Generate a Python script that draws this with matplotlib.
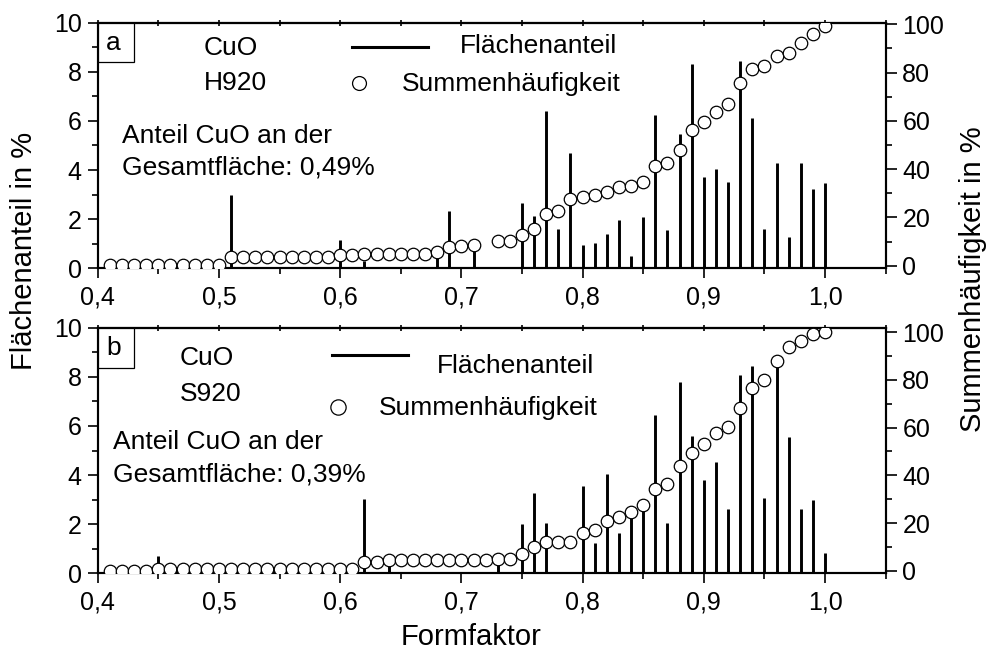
import matplotlib
matplotlib.use("Agg")
import matplotlib.pyplot as plt
from matplotlib.lines import Line2D
from matplotlib.patches import Rectangle
from matplotlib.ticker import MultipleLocator, FixedLocator

plt.rcParams['font.family'] = ['Liberation Sans', 'DejaVu Sans']

# ---- panel a: CuO H920 ----
a_bar_x = [0.51, 0.60, 0.62, 0.68, 0.69, 0.71, 0.75, 0.76, 0.77, 0.78, 0.79,
           0.80, 0.81, 0.82, 0.83, 0.84, 0.85, 0.86, 0.87, 0.88, 0.89, 0.90,
           0.91, 0.92, 0.93, 0.94, 0.95, 0.96, 0.97, 0.98, 0.99, 1.00]
a_bar_y = [3.0, 1.15, 0.3, 0.8, 2.35, 0.75, 2.65, 2.14, 6.42, 1.59, 4.68,
           0.95, 1.04, 1.41, 1.97, 0.51, 2.10, 6.24, 1.56, 5.46, 8.32, 3.70,
           4.03, 3.53, 8.44, 6.12, 1.59, 4.27, 1.26, 4.30, 3.22, 3.46]
a_cum_x = [0.41, 0.42, 0.43, 0.44, 0.45, 0.46, 0.47, 0.48, 0.49, 0.50,
           0.51, 0.52, 0.53, 0.54, 0.55, 0.56, 0.57, 0.58, 0.59, 0.60,
           0.61, 0.62, 0.63, 0.64, 0.65, 0.66, 0.67, 0.68, 0.69, 0.70,
           0.71, 0.73, 0.74, 0.75, 0.76, 0.77, 0.78, 0.79, 0.80,
           0.81, 0.82, 0.83, 0.84, 0.85, 0.86, 0.87, 0.88, 0.89, 0.90,
           0.91, 0.92, 0.93, 0.94, 0.95, 0.96, 0.97, 0.98, 0.99, 1.00]
a_cum_y = [0.3, 0.3, 0.3, 0.3, 0.3, 0.3, 0.3, 0.3, 0.3, 0.3,
           3.6, 3.6, 3.6, 3.6, 3.6, 3.6, 3.6, 3.6, 3.6, 4.4,
           4.4, 4.7, 4.7, 4.7, 4.7, 4.7, 4.7, 5.5, 7.9, 8.1,
           8.6, 10.1, 10.1, 12.7, 15.1, 21.3, 22.8, 27.5, 28.3,
           29.3, 30.7, 32.5, 33.0, 34.8, 41.3, 42.7, 47.9, 56.2, 59.7,
           63.5, 67.0, 75.5, 81.4, 82.9, 86.9, 88.3, 92.4, 95.9, 99.5]

# ---- panel b: CuO S920 ----
b_bar_x = [0.45, 0.62, 0.64, 0.73, 0.75, 0.76, 0.77, 0.80, 0.81, 0.82, 0.83,
           0.84, 0.85, 0.86, 0.87, 0.88, 0.89, 0.90, 0.91, 0.92, 0.93, 0.94,
           0.95, 0.96, 0.97, 0.98, 0.99, 1.00]
b_bar_y = [0.7, 3.03, 0.6, 0.45, 2.0, 3.26, 2.06, 3.57, 1.22, 4.06, 1.63,
           2.24, 2.6, 6.45, 2.06, 7.8, 5.6, 3.8, 4.53, 2.6, 8.07, 8.45,
           3.08, 8.41, 5.54, 2.6, 3.0, 0.81]
b_cum_x = [0.41, 0.42, 0.43, 0.44, 0.45, 0.46, 0.47, 0.48, 0.49, 0.50,
           0.51, 0.52, 0.53, 0.54, 0.55, 0.56, 0.57, 0.58, 0.59, 0.60,
           0.61, 0.62, 0.63, 0.64, 0.65, 0.66, 0.67, 0.68, 0.69, 0.70,
           0.71, 0.72, 0.73, 0.74, 0.75, 0.76, 0.77, 0.78, 0.79, 0.80,
           0.81, 0.82, 0.83, 0.84, 0.85, 0.86, 0.87, 0.88, 0.89, 0.90,
           0.91, 0.92, 0.93, 0.94, 0.95, 0.96, 0.97, 0.98, 0.99, 1.00]
b_cum_y = [0.0, 0.0, 0.0, 0.0, 0.9, 0.9, 0.9, 0.9, 0.9, 0.9,
           0.9, 0.9, 0.9, 0.9, 0.9, 0.9, 0.9, 0.9, 0.9, 0.9,
           0.9, 3.8, 3.8, 4.5, 4.5, 4.5, 4.5, 4.5, 4.5, 4.5,
           4.5, 4.5, 4.8, 4.8, 7.0, 10.1, 12.2, 12.2, 12.2, 15.7,
           17.1, 21.0, 22.7, 24.7, 27.6, 34.1, 36.2, 43.9, 49.5, 53.1,
           57.9, 60.4, 68.4, 76.8, 80.0, 88.1, 93.7, 96.4, 99.3, 100.0]

x_ticks = [0.4, 0.5, 0.6, 0.7, 0.8, 0.9, 1.0]
x_ticklabels = ["0,4", "0,5", "0,6", "0,7", "0,8", "0,9", "1,0"]

W, H = 988, 650
fig = plt.figure(figsize=(W / 100, H / 100), dpi=100)


def fx(x):
    return x / W


def fy(y):
    return 1 - y / H


TICK_FS = 18
TEXT_FS = 19
AXLABEL_FS = 21


def make_panel(rect, bar_x, bar_y, cum_x, cum_y, rlim):
    ax = fig.add_axes(rect)
    ax.vlines(bar_x, 0, bar_y, colors='black', linewidth=2.1, zorder=2)
    ax.set_xlim(0.4, 1.05)
    ax.set_ylim(0, 10)
    ax.xaxis.set_major_locator(FixedLocator(x_ticks))
    ax.set_xticklabels(x_ticklabels)
    ax.xaxis.set_minor_locator(MultipleLocator(0.05))
    ax.yaxis.set_major_locator(MultipleLocator(2))
    ax.yaxis.set_minor_locator(MultipleLocator(1))
    ax.tick_params(which='major', direction='out', length=7.5, width=1.2,
                   labelsize=TICK_FS, pad=4)
    ax.tick_params(which='minor', direction='out', length=4, width=1.2)
    ax.tick_params(axis='x', which='major', pad=5)
    for sp in ax.spines.values():
        sp.set_linewidth(1.5)

    top = ax.secondary_xaxis('top')
    top.set_xticks([0.4 + 0.05 * i for i in range(14)])
    top.set_xticklabels([])
    top.tick_params(direction='inout', length=4, width=1.2)
    top.spines['top'].set_linewidth(1.5)

    ax2 = ax.twinx()
    ax2.plot(cum_x, cum_y, linestyle='none', marker='o', markersize=9,
             markerfacecolor='white', markeredgecolor='black',
             markeredgewidth=0.9, zorder=3)
    ax2.set_ylim(*rlim)
    ax2.yaxis.set_major_locator(FixedLocator([0, 20, 40, 60, 80, 100]))
    ax2.yaxis.set_minor_locator(FixedLocator([10, 30, 50, 70, 90]))
    ax2.tick_params(which='major', direction='out', length=8, width=1.2,
                    labelsize=TICK_FS, pad=4)
    ax2.tick_params(which='minor', direction='out', length=4.5, width=1.2)
    for sp in ax2.spines.values():
        sp.set_linewidth(1.5)
    return ax, ax2


rect_a = [fx(97.7), fy(268.3), fx(885.7 - 97.7), (268.3 - 22.7) / H]
rect_b = [fx(97.7), fy(573.3), fx(885.7 - 97.7), (573.3 - 327.7) / H]

make_panel(rect_a, a_bar_x, a_bar_y, a_cum_x, a_cum_y, (-1.08, 100.66))
make_panel(rect_b, b_bar_x, b_bar_y, b_cum_x, b_cum_y, (-1.09, 101.9))


def txt(x, y, s, **kw):
    fig.text(fx(x), fy(y), s, fontsize=kw.pop('fontsize', TEXT_FS),
             va=kw.pop('va', 'baseline'), ha=kw.pop('ha', 'left'), **kw)


def key_line(x0, x1, y):
    fig.add_artist(Line2D([fx(x0), fx(x1)], [fy(y), fy(y)],
                          transform=fig.transFigure, color='black',
                          linewidth=2.2))


def key_circle(x, y, size):
    fig.add_artist(Line2D([fx(x)], [fy(y)], transform=fig.transFigure,
                          linestyle='none', marker='o', markersize=size,
                          markerfacecolor='white', markeredgecolor='black',
                          markeredgewidth=0.9))


def label_box(x0, y0, x1, y1):
    fig.add_artist(Rectangle((fx(x0), fy(y1)), fx(x1 - x0), (y1 - y0) / H,
                             transform=fig.transFigure, facecolor='white',
                             edgecolor='black', linewidth=0.9, zorder=5))


# panel a annotations
label_box(97.7, 22.7, 134, 62.3)
txt(106, 50, "a", zorder=6)
txt(204, 55.3, "CuO")
txt(204, 90, "H920")
txt(121.7, 143.3, "Anteil CuO an der")
txt(121.7, 175, "Gesamtfläche: 0,49%")
key_line(351.7, 428.3, 46.7)
txt(460, 53.3, "Flächenanteil")
key_circle(359.3, 83.3, 10)
txt(401.7, 90.7, "Summenhäufigkeit")

# panel b annotations
label_box(97.7, 327.7, 134, 367.7)
txt(106, 355, "b", zorder=6)
txt(180, 365, "CuO")
txt(180, 400.7, "S920")
txt(113.3, 449, "Anteil CuO an der")
txt(113.3, 481.7, "Gesamtfläche: 0,39%")
key_line(331.7, 408.3, 355)
txt(436.7, 373.3, "Flächenanteil")
key_circle(337.5, 407.3, 11)
txt(379.3, 415, "Summenhäufigkeit")

# axis titles
txt(24, 251, "Flächenanteil in %", rotation=90, ha='center', va='center',
    fontsize=AXLABEL_FS)
txt(973, 279, "Summenhäufigkeit in %", rotation=90, ha='center', va='center',
    fontsize=AXLABEL_FS)
txt(471, 636.7, "Formfaktor", ha='center', va='center', fontsize=AXLABEL_FS)

fig.savefig("out.png", dpi=100)
